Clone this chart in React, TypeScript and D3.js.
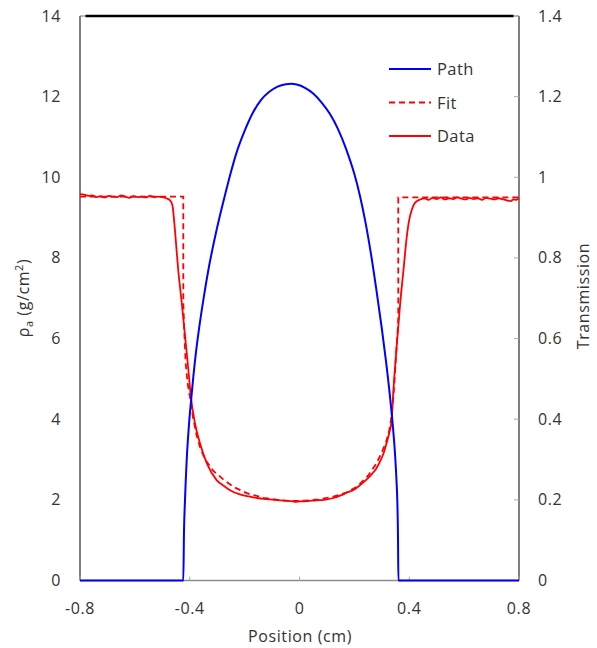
import React from "react";
import * as d3 from "d3";

const xTicks = [-0.8, -0.4, 0, 0.4, 0.8];
const xTickLabels = ["-0.8", "-0.4", "0", "0.4", "0.8"];
const leftTicks = [0, 2, 4, 6, 8, 10, 12, 14];
const rightTicks = [0, 0.2, 0.4, 0.6, 0.8, 1, 1.2, 1.4];
const rightTickLabels = ["0", "0.2", "0.4", "0.6", "0.8", "1", "1.2", "1.4"];

// Path (areal density, left axis g/cm^2)
const pathX = [-0.8, -0.4235, -0.421, -0.4173, -0.411, -0.403, -0.393, -0.38, -0.365, -0.35, -0.33, -0.31, -0.29, -0.27, -0.253, -0.23, -0.2, -0.17, -0.14, -0.11, -0.08, -0.05, -0.03, -0.01, 0.02, 0.05, 0.08, 0.11, 0.14, 0.17, 0.2, 0.22, 0.24, 0.26, 0.28, 0.3, 0.315, 0.33, 0.34, 0.348, 0.353, 0.357, 0.359, 0.3605, 0.8];
const pathY = [0, 0, 1.2, 2.0, 3.0, 3.85, 4.62, 5.5, 6.3, 6.98, 7.78, 8.45, 9.05, 9.6, 10.05, 10.6, 11.15, 11.6, 11.92, 12.12, 12.25, 12.31, 12.32, 12.3, 12.22, 12.08, 11.86, 11.58, 11.2, 10.7, 10.08, 9.55, 8.9, 8.12, 7.22, 6.25, 5.45, 4.55, 3.85, 3.15, 2.55, 1.85, 1.1, 0, 0];

// Fit (transmission, right axis)
const fitX = [-0.8, -0.4235, -0.4235, -0.42, -0.415, -0.408, -0.398, -0.387, -0.375, -0.363, -0.344, -0.314, -0.28, -0.24, -0.19, -0.13, -0.07, -0.03, 0.02, 0.07, 0.12, 0.17, 0.21, 0.25, 0.28, 0.3, 0.315, 0.327, 0.336, 0.345, 0.352, 0.358, 0.36, 0.36, 0.8];
const fitY = [0.952, 0.952, 0.69, 0.62, 0.54, 0.49, 0.45, 0.4, 0.36, 0.332, 0.3, 0.272, 0.252, 0.232, 0.216, 0.205, 0.199, 0.197, 0.198, 0.201, 0.207, 0.218, 0.233, 0.26, 0.29, 0.318, 0.342, 0.372, 0.41, 0.48, 0.56, 0.62, 0.65, 0.95, 0.95];

// Data (transmission, right axis)
const dataX = [-0.8, -0.785, -0.77, -0.755, -0.74, -0.725, -0.71, -0.695, -0.68, -0.665, -0.65, -0.635, -0.62, -0.605, -0.59, -0.575, -0.56, -0.545, -0.53, -0.515, -0.5, -0.485, -0.472, -0.463, -0.458, -0.452, -0.442, -0.429, -0.417, -0.405, -0.396, -0.381, -0.363, -0.338, -0.302, -0.27, -0.253, -0.22, -0.18, -0.15, -0.12, -0.09, -0.06, -0.03, -0.017, 0.0, 0.03, 0.06, 0.09, 0.12, 0.15, 0.17, 0.2, 0.22, 0.244, 0.265, 0.28, 0.292, 0.305, 0.317, 0.327, 0.335, 0.343, 0.355, 0.367, 0.379, 0.391, 0.4, 0.409, 0.42, 0.44, 0.455, 0.47, 0.485, 0.5, 0.515, 0.53, 0.545, 0.56, 0.575, 0.59, 0.605, 0.62, 0.635, 0.65, 0.665, 0.68, 0.695, 0.71, 0.725, 0.74, 0.755, 0.77, 0.78, 0.79, 0.8];
const dataY = [0.958, 0.957, 0.954, 0.955, 0.951, 0.953, 0.95, 0.954, 0.952, 0.951, 0.955, 0.952, 0.949, 0.953, 0.951, 0.952, 0.95, 0.954, 0.951, 0.952, 0.951, 0.948, 0.943, 0.93, 0.9, 0.853, 0.77, 0.688, 0.605, 0.522, 0.456, 0.39, 0.341, 0.291, 0.249, 0.232, 0.224, 0.214, 0.208, 0.204, 0.202, 0.2, 0.198, 0.197, 0.195, 0.196, 0.197, 0.199, 0.2, 0.204, 0.211, 0.217, 0.226, 0.236, 0.25, 0.265, 0.278, 0.293, 0.313, 0.34, 0.366, 0.392, 0.48, 0.588, 0.688, 0.77, 0.853, 0.895, 0.919, 0.936, 0.945, 0.948, 0.944, 0.949, 0.946, 0.95, 0.945, 0.948, 0.946, 0.95, 0.947, 0.945, 0.949, 0.946, 0.948, 0.944, 0.949, 0.947, 0.945, 0.948, 0.946, 0.943, 0.941, 0.945, 0.944, 0.948];

// Top border line at 14
const topLineX = [-0.78, 0.78];
const topLineY = [14, 14];

const legendItems = ["Path", "Fit", "Data"];

const FONT = "'Open Sans', 'Noto Sans', sans-serif";
const FS = 16;
const LS = 0.6;

export default function App() {
  const x = d3.scaleLinear().domain([-0.8, 0.8]).range([80, 519]);
  const yL = d3.scaleLinear().domain([0, 14]).range([580.5, 16]);
  const yR = d3.scaleLinear().domain([0, 1.4]).range([580.5, 16]);

  const lineL = d3.line<number>().x((_, i) => x(pathX[i])).y((v) => yL(v)).curve(d3.curveMonotoneX);
  const lineFit = d3.line<number>().x((_, i) => x(fitX[i])).y((v) => yR(v));
  const lineData = d3.line<number>().x((_, i) => x(dataX[i])).y((v) => yR(v)).curve(d3.curveMonotoneX);
  const lineTop = d3.line<number>().x((_, i) => x(topLineX[i])).y((v) => yL(v));

  const x0 = x(-0.8), x1 = x(0.8), yb = yL(0), yt = yL(14);

  return (
    <svg width={597} height={648} style={{ position: "absolute", left: 0, top: 0, background: "#fff" }} fontFamily={FONT}>
      <rect x={0} y={0} width={597} height={648} fill="#fff" />
      {/* frame */}
      <line x1={x0} x2={x1} y1={yb} y2={yb} stroke="#8c8c8c" strokeWidth={1.3} />
      <line x1={x0} x2={x0} y1={yt} y2={yb} stroke="#555" strokeWidth={1.5} />
      <line x1={x1} x2={x1} y1={yt} y2={yb} stroke="#555" strokeWidth={1.5} />
      <line x1={x0} x2={x1} y1={yt} y2={yt} stroke="#777" strokeWidth={1} />
      {/* bottom ticks */}
      {xTicks.map((t, i) => (
        <line key={"xt" + i} x1={x(t)} x2={x(t)} y1={yb} y2={yb - 4} stroke="#aaa" strokeWidth={1} />
      ))}
      {/* right ticks */}
      {rightTicks.map((t, i) => (
        <line key={"rt" + i} x1={x1} x2={x1 - 5} y1={yR(t)} y2={yR(t)} stroke="#aaa" strokeWidth={1} />
      ))}
      {/* x tick labels */}
      {xTicks.map((t, i) => (
        <text key={"xl" + i} x={x(t)} y={614} textAnchor="middle" fontSize={FS} letterSpacing={LS} fill="#333">{xTickLabels[i]}</text>
      ))}
      {leftTicks.map((t, i) => (
        <text key={"ll" + i} x={61} y={yL(t) + 5.5} textAnchor="end" fontSize={FS} letterSpacing={LS} fill="#333">{t}</text>
      ))}
      {rightTicks.map((t, i) => (
        <text key={"rl" + i} x={538} y={yR(t) + 5.5} textAnchor="start" fontSize={FS} letterSpacing={LS} fill="#333">{rightTickLabels[i]}</text>
      ))}
      {/* axis titles */}
      <text x={300} y={641.5} textAnchor="middle" fontSize={FS} letterSpacing={LS} fill="#333">Position (cm)</text>
      <text transform="translate(29,298) rotate(-90)" textAnchor="middle" fontSize={FS} letterSpacing={LS} fill="#333">
        ρ<tspan fontSize={11} dy={4}>a</tspan><tspan dy={-4}> (g/cm</tspan><tspan fontSize={11} dy={-6}>2</tspan><tspan dy={6}>)</tspan>
      </text>
      <text transform="translate(589,296) rotate(-90)" textAnchor="middle" fontSize={FS} letterSpacing={LS} fill="#333">Transmission</text>

      {/* series */}
      <path d={lineTop(topLineY) || ""} fill="none" stroke="#000" strokeWidth={2.5} />
      <path d={lineData(dataY) || ""} fill="none" stroke="#ff0000" strokeWidth={1.8} strokeLinejoin="round" />
      <path d={lineFit(fitY) || ""} fill="none" stroke="#ff0000" strokeWidth={1.8} strokeDasharray="6,4" />
      <path d={lineL(pathY) || ""} fill="none" stroke="#0000ff" strokeWidth={2} strokeLinejoin="round" />

      {/* legend */}
      {legendItems.map((name, i) => {
        const ly = 69 + i * 33.5;
        const color = i === 0 ? "#0000ff" : "#ff0000";
        return (
          <g key={name}>
            <line x1={389} x2={431} y1={ly} y2={ly} stroke={color} strokeWidth={2} strokeDasharray={i === 1 ? "6,4" : undefined} />
            <text x={437} y={ly + 6} fontSize={16.5} letterSpacing={0.4} fill="#333">{name}</text>
          </g>
        );
      })}
    </svg>
  );
}
